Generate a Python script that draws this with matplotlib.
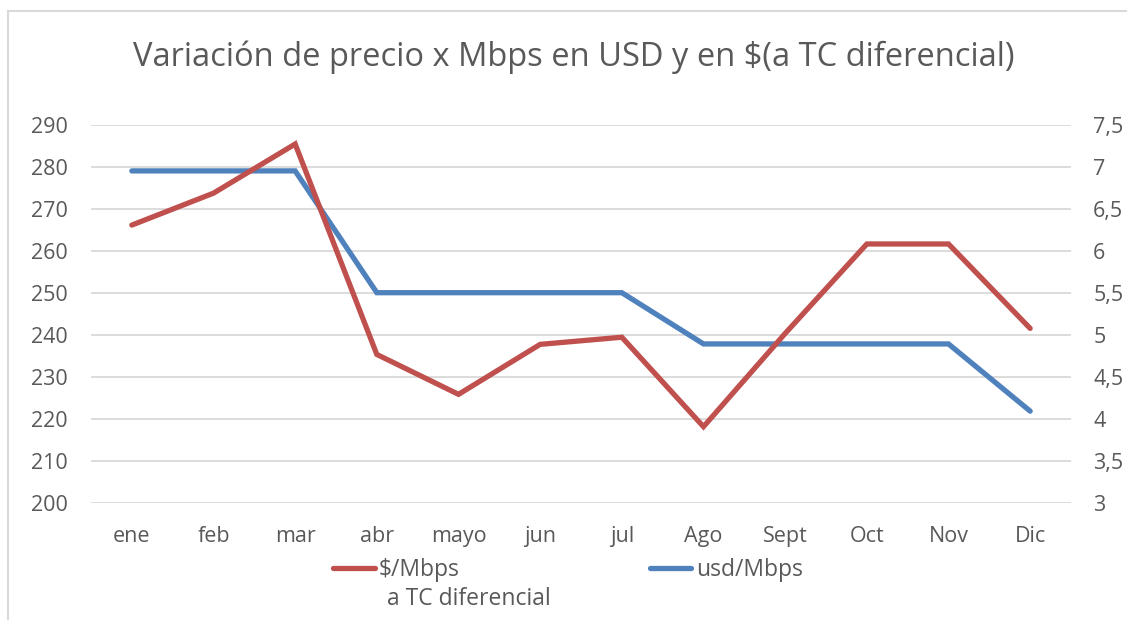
import matplotlib
matplotlib.use('Agg')
import matplotlib.pyplot as plt
from matplotlib.lines import Line2D
from matplotlib.patches import Rectangle

plt.rcParams['font.family'] = ['Open Sans', 'DejaVu Sans']

meses = ['ene', 'feb', 'mar', 'abr', 'mayo', 'jun', 'jul', 'Ago', 'Sept', 'Oct', 'Nov', 'Dic']
pesos_mbps = [266.1, 273.7, 285.4, 235.3, 225.8, 237.7, 239.4, 218.1, 240.3, 261.6, 261.6, 241.5]
usd_mbps = [6.95, 6.95, 6.95, 5.5, 5.5, 5.5, 5.5, 4.89, 4.89, 4.89, 4.89, 4.09]
ticks_izq = [200, 210, 220, 230, 240, 250, 260, 270, 280, 290]
ticks_der = [3, 3.5, 4, 4.5, 5, 5.5, 6, 6.5, 7, 7.5]

rojo = '#C0504D'
azul = '#4F81BD'
gris = '#595959'

fig = plt.figure(figsize=(11.27, 6.2), dpi=100)
fig.add_artist(Rectangle((8/1127, -0.1), 1.2, 1 - 11/620 + 0.1, transform=fig.transFigure,
                         fill=False, edgecolor='#D9D9D9', linewidth=1.5))

ax = fig.add_axes([91/1127, 1 - 502.7/620, 980/1127, 378/620])
ax2 = ax.twinx()

x = list(range(len(meses)))
ax.plot(x, pesos_mbps, color=rojo, linewidth=3.8, solid_capstyle='round', solid_joinstyle='miter', zorder=3)
ax2.plot(x, usd_mbps, color=azul, linewidth=3.8, solid_capstyle='round', solid_joinstyle='miter', zorder=3)
ax.set_zorder(ax2.get_zorder() + 1)
ax.patch.set_visible(False)

ax.set_xlim(-0.5, len(meses) - 0.5)
ax.set_ylim(200, 290)
ax2.set_ylim(3, 7.5)
ax.set_yticks(ticks_izq)
ax2.set_yticks(ticks_der)
ax2.set_yticklabels([str(t).replace('.', ',') if t != int(t) else str(int(t)) for t in ticks_der])
ax.set_xticks(x)
ax.set_xticklabels(meses)

for a in (ax, ax2):
    for s in a.spines.values():
        s.set_visible(False)
    a.tick_params(length=0, labelsize=15.5, labelcolor=gris)
ax.tick_params(axis='y', pad=17)
ax2.tick_params(axis='y', pad=16)
ax.tick_params(axis='x', pad=17)
# grid on the lower axes so both lines sit above it
ax2.grid(axis='y', color='#D9D9D9', linewidth=1.3)
ax2.set_axisbelow(True)

fig.text(574/1127, 1 - 57/620, 'Variación de precio x Mbps en USD y en \\$(a TC diferencial)',
         ha='center', va='center', fontsize=23.5, color=gris)

# leyenda
fig.add_artist(Line2D([333/1127, 375/1127], [1 - 568/620] * 2, color=rojo, linewidth=3.8,
                      solid_capstyle='round', transform=fig.transFigure))
fig.text(379/1127, 1 - 570/620, '\\$/Mbps', ha='left', va='center', fontsize=16.5, color=gris)
fig.text(387/1127, 1 - 599/620, 'a TC diferencial', ha='left', va='center', fontsize=16.5, color=gris)
fig.add_artist(Line2D([650/1127, 691/1127], [1 - 568/620] * 2, color=azul, linewidth=3.8,
                      solid_capstyle='round', transform=fig.transFigure))
fig.text(696/1127, 1 - 570/620, 'usd/Mbps', ha='left', va='center', fontsize=16.5, color=gris)

fig.savefig('out.png', dpi=100)
